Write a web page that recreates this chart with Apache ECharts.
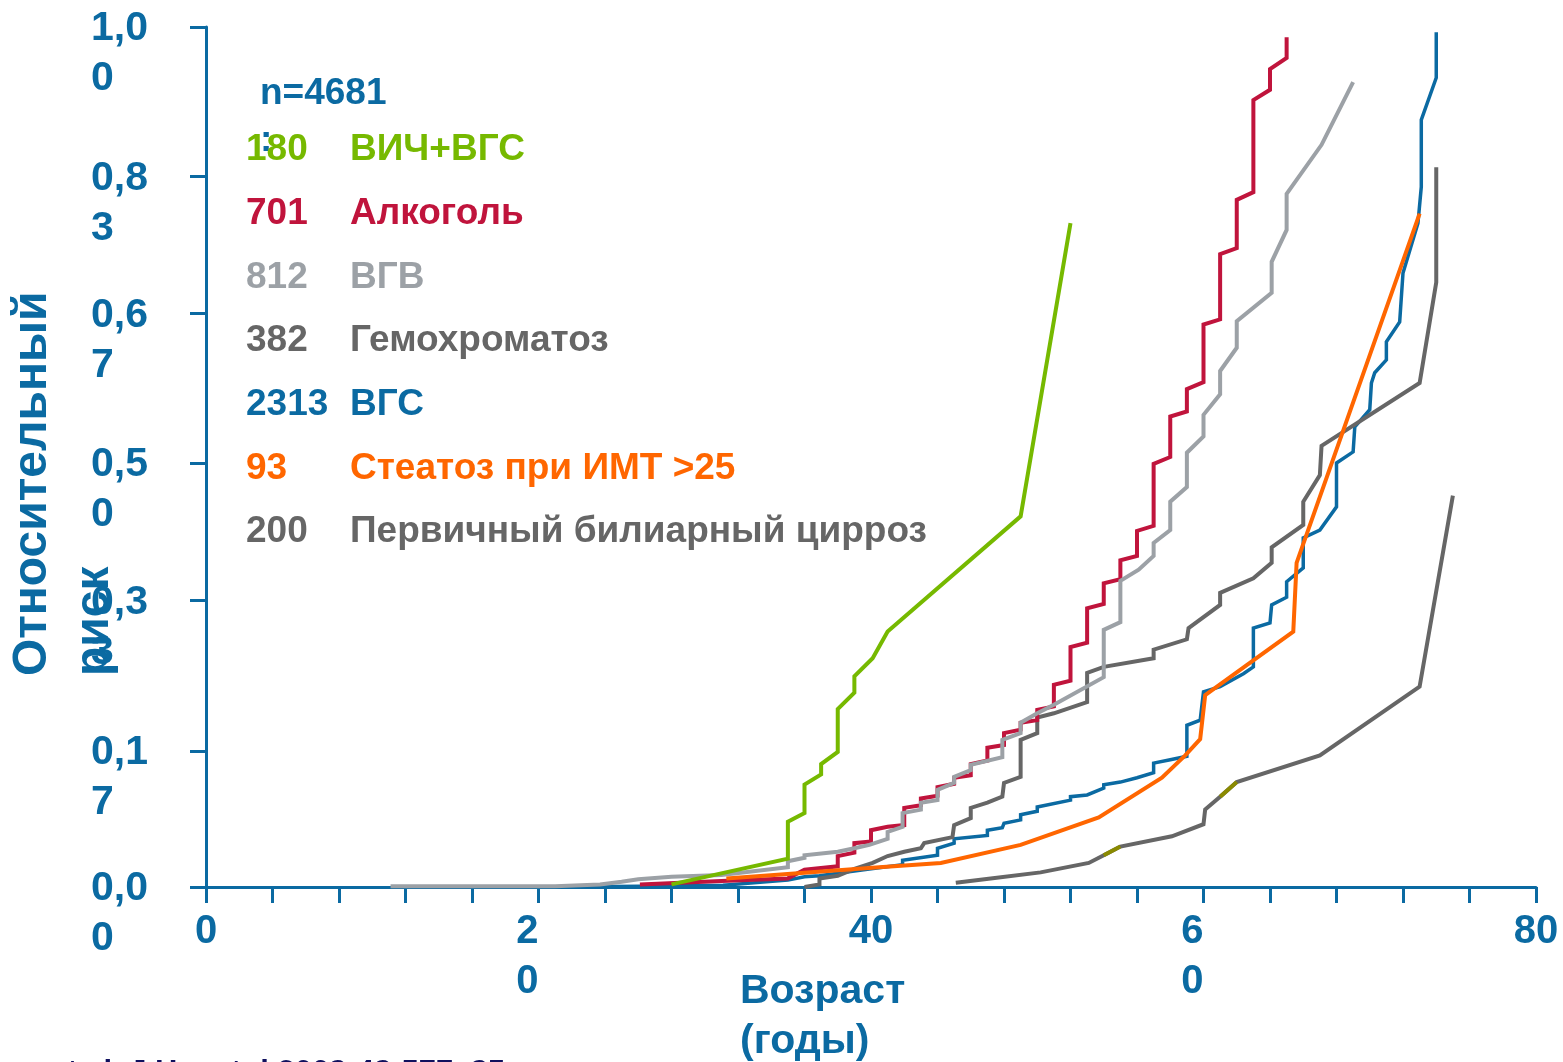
<!DOCTYPE html>
<html>
<head>
<meta charset="utf-8">
<script src="https://cdn.jsdelivr.net/npm/echarts@6/dist/echarts.min.js"></script>
<style>
html,body{margin:0;padding:0;background:#fff;}
#chart{width:1563px;height:1062px;}
</style>
</head>
<body>
<div id="chart"></div>
<script>
// ---- data: [age (years), cumulative risk] ----
const hivHcv = [[28.0,0.003],[35.0,0.033],[35.0,0.076],[36.0,0.086],[36.0,0.119],[37.0,0.131],[37.0,0.143],[38.0,0.157],[38.0,0.207],[39.0,0.226],[39.0,0.245],[40.1,0.266],[41.0,0.297],[49.0,0.431],[52.0,0.772]];
const alcohol = [[26.1,0.003],[31.0,0.007],[35.0,0.010],[36.0,0.020],[38.0,0.024],[38.0,0.036],[39.0,0.040],[39.0,0.051],[40.0,0.053],[40.0,0.066],[41.0,0.070],[42.0,0.072],[42.0,0.092],[43.0,0.095],[43.0,0.103],[44.0,0.106],[44.0,0.116],[45.0,0.120],[45.0,0.127],[46.0,0.130],[46.0,0.143],[47.0,0.147],[47.0,0.162],[48.0,0.165],[48.0,0.179],[49.0,0.183],[49.0,0.191],[50.0,0.194],[50.0,0.206],[51.0,0.210],[51.0,0.235],[52.0,0.240],[52.0,0.279],[53.0,0.284],[53.0,0.324],[54.0,0.329],[54.0,0.353],[55.0,0.358],[55.0,0.380],[56.0,0.385],[56.0,0.414],[57.0,0.420],[57.0,0.492],[58.0,0.500],[58.0,0.547],[59.0,0.553],[59.0,0.579],[60.0,0.587],[60.0,0.654],[61.0,0.660],[61.0,0.736],[62.0,0.743],[62.0,0.799],[63.0,0.808],[63.0,0.915],[64.0,0.927],[64.0,0.951],[65.0,0.964],[65.0,0.988]];
const hbv = [[11.1,0.001],[21.0,0.001],[23.7,0.003],[25.0,0.006],[26.0,0.009],[28.0,0.012],[31.0,0.014],[35.0,0.023],[35.0,0.030],[36.0,0.034],[36.0,0.037],[38.0,0.041],[39.0,0.045],[39.9,0.049],[41.0,0.056],[41.0,0.064],[41.9,0.070],[41.9,0.086],[43.0,0.090],[43.0,0.098],[44.0,0.101],[44.0,0.113],[45.0,0.121],[45.0,0.128],[46.0,0.136],[46.0,0.142],[47.9,0.151],[47.9,0.171],[49.0,0.179],[49.0,0.191],[50.0,0.202],[51.0,0.212],[54.0,0.244],[54.0,0.299],[55.0,0.308],[55.0,0.356],[56.1,0.369],[57.0,0.385],[57.0,0.400],[58.0,0.415],[58.0,0.448],[59.0,0.465],[59.0,0.505],[60.0,0.524],[60.0,0.549],[61.0,0.573],[61.0,0.600],[62.0,0.627],[62.0,0.658],[64.1,0.691],[64.1,0.727],[65.0,0.764],[65.0,0.806],[67.1,0.863],[69.0,0.936]];
const hemochromatosis = [[36.0,0.000],[36.9,0.003],[36.9,0.010],[38.0,0.013],[39.0,0.021],[40.1,0.028],[41.0,0.036],[42.0,0.041],[43.0,0.045],[43.2,0.051],[44.9,0.058],[45.0,0.072],[46.0,0.080],[46.0,0.092],[47.0,0.098],[47.9,0.105],[48.0,0.121],[49.0,0.128],[49.0,0.171],[50.0,0.179],[50.0,0.197],[51.0,0.202],[53.0,0.215],[53.0,0.249],[54.0,0.256],[57.0,0.266],[57.0,0.276],[59.0,0.288],[59.1,0.301],[61.0,0.328],[61.0,0.342],[63.0,0.359],[64.1,0.377],[64.1,0.395],[66.0,0.421],[66.0,0.448],[67.0,0.479],[67.1,0.513],[73.0,0.586],[74.0,0.703],[74.0,0.837]];
const hcv = [[21.0,0.000],[26.1,0.001],[31.1,0.002],[35.0,0.008],[36.0,0.012],[36.9,0.013],[38.0,0.016],[39.9,0.021],[41.9,0.026],[41.9,0.031],[44.0,0.037],[44.0,0.045],[45.0,0.051],[45.0,0.056],[47.0,0.060],[47.0,0.066],[47.9,0.069],[48.0,0.074],[49.0,0.078],[49.0,0.084],[50.0,0.088],[50.0,0.093],[52.0,0.101],[52.0,0.105],[53.0,0.107],[54.0,0.115],[54.0,0.119],[55.0,0.122],[56.0,0.127],[57.0,0.133],[57.0,0.144],[58.0,0.148],[59.0,0.152],[59.0,0.188],[59.8,0.194],[60.0,0.227],[61.0,0.233],[62.4,0.248],[63.0,0.256],[63.0,0.301],[64.0,0.307],[64.1,0.328],[65.0,0.337],[65.0,0.355],[66.0,0.371],[66.0,0.406],[67.0,0.415],[68.0,0.442],[68.0,0.493],[69.0,0.506],[69.1,0.535],[70.0,0.555],[70.1,0.586],[70.3,0.598],[71.0,0.613],[71.0,0.634],[71.8,0.657],[72.0,0.714],[72.9,0.772],[73.1,0.814],[73.1,0.892],[74.0,0.941],[74.0,0.994]];
const steatosis = [[31.3,0.010],[40.5,0.023],[44.2,0.028],[49.0,0.049],[53.7,0.081],[57.5,0.127],[58.9,0.153],[59.8,0.172],[60.1,0.223],[62.6,0.258],[65.4,0.297],[65.6,0.377],[73.0,0.783]];
const pbc = [[45.1,0.005],[47.2,0.010],[50.2,0.017],[53.1,0.028],[54.0,0.037],[55.0,0.047],[58.1,0.059],[60.0,0.073],[60.1,0.090],[61.0,0.105],[62.0,0.122],[67.0,0.153],[73.0,0.233],[75.0,0.455]];
const pbcOliveA = [[54.0,0.037],[55.0,0.047]];
const pbcOliveB = [[61.0,0.105],[62.0,0.122]];

// tick positions as drawn in the original (slightly irregular) and their labels
const yTickValues = [0, 0.158, 0.333, 0.493, 0.667, 0.826, 1.0];
const yTickLabels = ['0,00','0,17','0,33','0,50','0,67','0,83','1,00'];
const xLabelMap = {0:'0', 20:'2  \n0  ', 40:'40', 60:'6  \n0  ', 80:'80'};

const legendCounts = ['180','701','812','382','2313','93','200'];
const legendNames = ['ВИЧ+ВГС','Алкоголь','ВГВ','Гемохроматоз','ВГС','Стеатоз при ИМТ >25','Первичный билиарный цирроз'];
const totalLabel = 'n=4681\n:';
const xTitle = 'Возраст\n(годы)';
const yTitle = 'Относительный\nриск';
const footer = 'et al. J Hepatol 2008;48:577–85';

// ---- styling ----
const AX = '#0b6aa2';
const C = {green:'#76b900', red:'#c0143c', lgrey:'#9ca1a6', dgrey:'#666666', blue:'#0b6aa2', orange:'#ff6600', olive:'#8a8a00'};
const legendColors = [C.green, C.red, C.lgrey, C.dgrey, C.blue, C.orange, C.dgrey];
const FONT = '"Liberation Sans", Arial, sans-serif';

function line(name, data, color, width, z){
  return {type:'line', name:name, data:data, showSymbol:false, symbol:'none', smooth:false,
    lineStyle:{color:color, width:width, cap:'butt', join:'miter'}, itemStyle:{color:color}, z:z, silent:true};
}

const chart = echarts.init(document.getElementById('chart'), null, {renderer:'canvas'});

const graphics = [];
graphics.push({type:'text', x:260, y:70, style:{text:totalLabel, fill:AX, font:'bold 37px '+FONT, align:'left', verticalAlign:'top', lineHeight:47}});
legendCounts.forEach(function(c,i){
  const y = 150 + i*63.7;
  graphics.push({type:'text', x:246, y:y, style:{text:c, fill:legendColors[i], font:'bold 37px '+FONT, align:'left', verticalAlign:'middle'}});
  graphics.push({type:'text', x:350, y:y, style:{text:legendNames[i], fill:legendColors[i], font:'bold 37px '+FONT, align:'left', verticalAlign:'middle'}});
});
graphics.push({type:'text', x:2, y:676, rotation:Math.PI/2, style:{text:yTitle, fill:AX, font:'bold 48px '+FONT, align:'left', verticalAlign:'top', lineHeight:62}});
graphics.push({type:'text', x:740, y:967, style:{text:xTitle, fill:AX, font:'bold 41px '+FONT, align:'left', verticalAlign:'top', lineHeight:50}});
graphics.push({type:'text', x:50, y:1073, style:{text:footer, fill:'#10105e', font:'bold 31px '+FONT, align:'left', verticalAlign:'middle'}});

const yRich = {
  a:{color:AX, fontSize:41, fontWeight:'bold', fontFamily:FONT, lineHeight:4},
  b:{color:AX, fontSize:41, fontWeight:'bold', fontFamily:FONT, lineHeight:96}
};

const option = {
  animation:false,
  backgroundColor:'#ffffff',
  grid:{left:206, right:27, top:27, bottom:175, containLabel:false, outerBoundsMode:'none'},
  xAxis:{
    type:'value', min:0, max:80, interval:4,
    axisLine:{show:true, onZero:false, lineStyle:{color:AX, width:3}},
    axisTick:{show:true, length:16, lineStyle:{color:AX, width:3}},
    splitLine:{show:false},
    axisLabel:{
      color:AX, fontSize:40, fontWeight:'bold', fontFamily:FONT, lineHeight:50, margin:20,
      showMinLabel:true, showMaxLabel:true, hideOverlap:false,
      formatter:function(v){ const k = Math.round(v); return (k in xLabelMap) ? xLabelMap[k] : ''; }
    }
  },
  yAxis:{
    type:'value', min:0, max:1,
    axisLine:{show:true, lineStyle:{color:AX, width:3}},
    axisTick:{show:true, length:16, lineStyle:{color:AX, width:3}, customValues:yTickValues},
    splitLine:{show:false},
    axisLabel:{
      customValues:yTickValues,
      color:AX, fontSize:41, fontWeight:'bold', fontFamily:FONT, margin:115, align:'left', verticalAlign:'top',
      showMinLabel:true, showMaxLabel:true, hideOverlap:false, rich:yRich,
      formatter:function(v){
        let idx = 0, best = 1e9;
        yTickValues.forEach(function(t,i){ const d = Math.abs(t-v); if (d < best){best = d; idx = i;} });
        const s = yTickLabels[idx];
        return '{a|' + s.slice(0,3) + '}\n{b|' + s.slice(3) + '}';
      }
    }
  },
  graphic:graphics,
  series:[
    line('ВГС', hcv, C.blue, 3.5, 2),
    line('Гемохроматоз', hemochromatosis, C.dgrey, 4, 3),
    line('Алкоголь', alcohol, C.red, 4, 4),
    line('ВГВ', hbv, C.lgrey, 4, 5),
    line('ВИЧ+ВГС', hivHcv, C.green, 4, 6),
    line('Стеатоз при ИМТ >25', steatosis, C.orange, 4, 7),
    line('Первичный билиарный цирроз', pbc, C.dgrey, 4, 8),
    line('pbc-a', pbcOliveA, C.olive, 4, 9),
    line('pbc-b', pbcOliveB, C.olive, 4, 9)
  ]
};
chart.setOption(option);
</script>
</body>
</html>
